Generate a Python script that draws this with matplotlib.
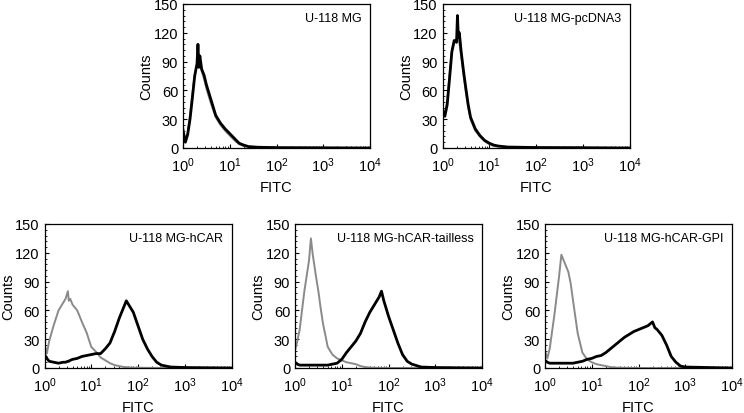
import matplotlib.pyplot as plt
import numpy as np
from matplotlib.ticker import LogLocator, FixedLocator

# ---------------------------------  data  ---------------------------------
# positions are log10(FITC), values are counts
titles = ["U-118 MG", "U-118 MG-pcDNA3", "U-118 MG-hCAR",
          "U-118 MG-hCAR-tailless", "U-118 MG-hCAR-GPI"]

mg_log = [0.0, 0.05, 0.1, 0.15, 0.2, 0.25, 0.3, 0.32, 0.34, 0.36, 0.4, 0.45, 0.5, 0.55, 0.6,
          0.7, 0.8, 0.9, 1.0, 1.1, 1.2, 1.3, 1.4, 1.6, 2.0, 3.0, 4.0]
mg_black = [18, 6, 14, 30, 52, 75, 88, 108, 84, 96, 82, 76, 66, 58, 50,
            34, 26, 20, 15, 10, 5, 3, 1.5, 0.8, 0.4, 0.2, 0]
mg_gray = [22, 8, 16, 34, 56, 76, 86, 92, 85, 88, 80, 72, 62, 54, 46,
           32, 24, 18, 13, 8, 4, 2, 1, 0.5, 0.3, 0.1, 0]

pc_log = [0.0, 0.05, 0.1, 0.15, 0.2, 0.25, 0.3, 0.32, 0.34, 0.36, 0.4, 0.45, 0.5, 0.55, 0.6,
          0.65, 0.7, 0.8, 0.9, 1.0, 1.1, 1.2, 1.4, 2.0, 3.0, 4.0]
pc_black = [40, 33, 45, 72, 100, 112, 110, 138, 115, 120, 100, 80, 62, 45, 32,
            26, 20, 13, 8, 5, 3, 2, 1, 0.5, 0.3, 0]
pc_gray = [42, 35, 48, 76, 102, 110, 112, 118, 112, 110, 96, 76, 58, 42, 30,
           24, 18, 12, 7, 4, 2, 1.5, 0.8, 0.4, 0.2, 0]

car_log = [0.0, 0.05, 0.1, 0.2, 0.3, 0.4, 0.45, 0.5, 0.52, 0.55, 0.6, 0.7, 0.8, 0.9, 1.0,
           1.1, 1.2, 1.3, 1.4, 1.5, 1.6, 1.7, 1.75, 1.8, 1.85, 1.9, 2.0, 2.1, 2.2, 2.3,
           2.4, 2.5, 2.7, 3.0, 4.0]
car_gray = [25, 15, 28, 45, 60, 68, 72, 80, 70, 72, 66, 60, 48, 37, 22,
            17, 11, 8, 5, 3, 2, 1, 1, 0.5, 0.5, 0.3, 0.3, 0.2, 0.2, 0.1,
            0.1, 0, 0, 0, 0]
car_black = [14, 10, 7, 6, 5, 6, 6, 7, 7, 8, 9, 10, 12, 13, 14,
             15, 15, 20, 26, 38, 52, 64, 70, 66, 62, 58, 44, 30, 20, 12,
             6, 3, 1, 0.5, 0]

tl_log = [0.0, 0.05, 0.1, 0.2, 0.3, 0.34, 0.38, 0.45, 0.5, 0.55, 0.6, 0.7, 0.8, 0.9, 1.0,
          1.1, 1.2, 1.3, 1.4, 1.5, 1.6, 1.7, 1.8, 1.85, 1.9, 2.0, 2.1, 2.2, 2.3, 2.4,
          2.5, 2.7, 3.0, 4.0]
tl_gray = [18, 28, 40, 80, 112, 135, 118, 95, 80, 62, 46, 22, 14, 10, 8,
           6, 5, 4, 2, 1, 0.5, 0.3, 0.2, 0.1, 0.1, 0, 0, 0, 0, 0,
           0, 0, 0, 0]
tl_black = [6, 4, 3, 3, 3, 3, 3, 3, 3, 3, 3, 3, 4, 5, 9,
            16, 22, 28, 36, 48, 58, 66, 74, 80, 70, 54, 40, 26, 14, 7,
            4, 1, 0.5, 0]

gpi_log = [0.0, 0.05, 0.1, 0.2, 0.3, 0.35, 0.4, 0.45, 0.5, 0.55, 0.6, 0.7, 0.8, 0.9, 1.0,
           1.1, 1.2, 1.3, 1.4, 1.5, 1.6, 1.7, 1.8, 1.9, 2.0, 2.1, 2.2, 2.3, 2.35, 2.4,
           2.5, 2.6, 2.7, 2.8, 2.9, 3.0, 4.0]
gpi_gray = [18, 10, 20, 55, 95, 118, 112, 106, 100, 88, 70, 36, 16, 9, 6,
            4, 3, 2, 1, 0.5, 0.3, 0.2, 0.1, 0, 0, 0, 0, 0, 0, 0,
            0, 0, 0, 0, 0, 0, 0]
gpi_black = [8, 6, 5, 5, 5, 5, 5, 5, 5, 5, 5, 6, 7, 9, 10,
             12, 13, 16, 20, 24, 28, 32, 35, 38, 40, 42, 44, 48, 42, 40,
             34, 24, 12, 6, 2, 1, 0]

panels = [
    (mg_log, mg_gray, mg_black),
    (pc_log, pc_gray, pc_black),
    (car_log, car_gray, car_black),
    (tl_log, tl_gray, tl_black),
    (gpi_log, gpi_gray, gpi_black),
]

# ---------------------------------  layout  ---------------------------------
W, H = 744, 414
fig = plt.figure(figsize=(W / 100, H / 100), dpi=100)
plt.rcParams['font.family'] = ['Liberation Sans', 'DejaVu Sans']

w_ax, h_ax = 187 / W, 144 / H
positions = [
    (183 / W, 1 - 149 / H),
    (442.5 / W, 1 - 149 / H),
    (44.5 / W, 1 - 369 / H),
    (295 / W, 1 - 369 / H),
    (545 / W, 1 - 369 / H),
]

for (lx, by), title, (logs, gray, black) in zip(positions, titles, panels):
    ax = fig.add_axes([lx, by, w_ax, h_ax])
    xs = 10 ** np.array(logs)
    ax.plot(xs, gray, color='#8a8a8a', lw=1.4)
    ax.plot(xs, black, color='black', lw=2.0)

    ax.set_xscale('log')
    ax.set_xlim(1, 1e4)
    ax.set_ylim(0, 150)
    ax.set_yticks([0, 30, 60, 90, 120, 150])
    ax.yaxis.set_minor_locator(FixedLocator(np.arange(0, 151, 6)))
    ax.xaxis.set_major_locator(LogLocator(base=10, numticks=10))
    ax.xaxis.set_minor_locator(LogLocator(base=10, subs=np.arange(2, 10), numticks=20))
    ax.tick_params(which='both', direction='in', labelsize=10.5)
    ax.tick_params(axis='x', pad=5.5)
    ax.tick_params(axis='y', pad=3.5)
    ax.tick_params(which='major', length=3)
    ax.tick_params(which='minor', length=1.5, width=0.6)
    for s in ax.spines.values():
        s.set_linewidth(0.9)

    ax.set_xlabel('FITC', fontsize=10.5, labelpad=4)
    ax.set_ylabel('Counts', fontsize=10.5, labelpad=0)
    ax.text(0.955, 0.945, title, transform=ax.transAxes, ha='right', va='top', fontsize=9)

fig.savefig('out.png', dpi=100)
